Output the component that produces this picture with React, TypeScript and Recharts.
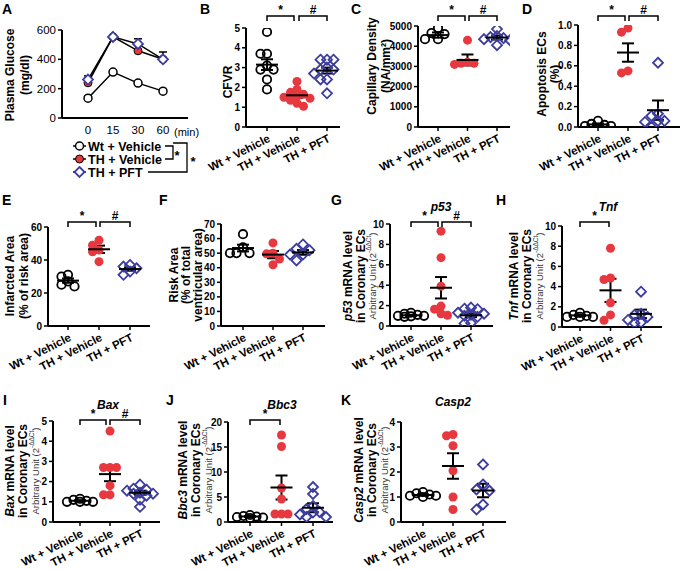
import React from 'react';
import { ComposedChart, LineChart, Line, Scatter, XAxis, YAxis, ErrorBar } from 'recharts';

const FONT = "'Liberation Sans', Arial, Helvetica, sans-serif";
const RED = '#e8383f';
const BLUE = '#3d3d9e';

// ---------- Panel A ----------
const timePoints = ['0', '15', '30', '60'];
const glucoseWt = [135, 313, 238, 183];
const glucoseTH = [240, 553, 458, 400];
const glucosePFT = [262, 553, 505, 400];
const glucosePFTErrUp = [25, 0, 35, 50];

const groupLabels = ['Wt + Vehicle', 'TH + Vehicle', 'TH + PFT'];

// ---------- Panel B: CFVR ----------
const cfvrWt = [4.8, 3.7, 3.7, 3.1, 2.9, 2.9, 2.4, 1.9];
const cfvrTH = [2.3, 1.9, 1.75, 1.65, 1.55, 1.5, 1.45, 1.35, 1.2, 1.05];
const cfvrPFT = [3.4, 3.4, 3.4, 3.0, 2.9, 2.9, 2.7, 2.4, 2.4, 1.7];
const cfvrMean = [3.15, 1.6, 2.85];
const cfvrSem = [0.27, 0.12, 0.15];

// ---------- Panel C: capillary density ----------
const capWt = [4900, 4650, 4600, 4350, 4350];
const capTH = [4300, 3200, 3150, 3150, 3100];
const capPFT = [4850, 4500, 4450, 4400, 4350, 4300, 4050];
const capMean = [4550, 3320, 4430];
const capSem = [130, 270, 100];

// ---------- Panel D: apoptosis ----------
const apoWt = [0.06, 0.03, 0.02, 0.01, 0.01];
const apoTH = [0.97, 0.93, 0.55, 0.53];
const apoPFT = [0.63, 0.13, 0.11, 0.06, 0.06, 0.05, 0.0];
const apoMean = [0.025, 0.73, 0.165];
const apoSem = [0.01, 0.09, 0.095];

// ---------- Panel E: infarcted area ----------
const infWt = [31, 30, 27, 25, 24];
const infTH = [52, 49, 46, 45, 39];
const infPFT = [37, 36, 35, 33, 31];
const infMean = [27.5, 46.5, 34.5];
const infSem = [1.3, 2.2, 1.0];

// ---------- Panel F: risk area ----------
const riskWt = [63, 54, 50, 50, 50];
const riskTH = [57, 50, 49.5, 46, 42];
const riskPFT = [56, 53, 52, 49, 49, 45];
const riskMean = [53.5, 49, 50.5];
const riskSem = [2.3, 2.5, 1.6];

// ---------- Panel G: p53 ----------
const p53Wt = [1.3, 1.2, 1.1, 1.0, 1.0, 0.95, 0.9];
const p53TH = [9.3, 6.7, 3.9, 1.95, 1.65, 1.2, 1.05];
const p53PFT = [1.8, 1.7, 1.65, 1.3, 1.2, 1.1, 1.0, 0.9, 0.3, 0.25];
const p53Mean = [1.05, 3.75, 1.05];
const p53Sem = [0.05, 1.05, 0.18];

// ---------- Panel H: Tnf ----------
const tnfWt = [1.4, 1.2, 1.1, 1.0, 1.0, 1.0];
const tnfTH = [7.8, 4.85, 4.7, 2.4, 1.2, 0.66];
const tnfPFT = [3.5, 1.3, 1.2, 1.0, 0.7, 0.45, 0.4];
const tnfMean = [1.15, 3.63, 1.3];
const tnfSem = [0.07, 1.15, 0.42];

// ---------- Panel I: Bax ----------
const baxWt = [1.15, 1.1, 1.05, 1.0, 1.0, 1.0];
const baxTH = [4.5, 2.7, 2.7, 2.7, 1.8, 1.35, 1.35];
const baxPFT = [1.85, 1.65, 1.6, 1.55, 1.45, 1.4, 1.4, 1.3, 1.1, 0.75];
const baxMean = [1.05, 2.37, 1.45];
const baxSem = [0.03, 0.35, 0.1];

// ---------- Panel J: Bbc3 ----------
const bbcWt = [1.4, 1.2, 1.1, 1.0, 0.9, 0.8];
const bbcTH = [17.4, 15.1, 6.8, 4.6, 1.6, 1.6, 1.6];
const bbcPFT = [7.0, 5.6, 3.2, 2.6, 2.0, 1.9, 1.5, 1.0, 1.0];
const bbcMean = [1.1, 6.9, 2.85];
const bbcSem = [0.1, 2.4, 0.9];

// ---------- Panel K: Casp2 ----------
const caspWt = [1.2, 1.15, 1.1, 1.05, 1.05, 1.0];
const caspTH = [3.45, 3.5, 3.05, 2.05, 1.0, 0.5];
const caspPFT = [2.3, 1.5, 1.3, 1.25, 0.7, 0.5];
const caspMean = [1.08, 2.24, 1.26];
const caspSem = [0.03, 0.51, 0.27];

// ---------- helpers ----------
function swarm(vals: number[], pxPerY: number, step = 6.5, minD = 6.5): number[] {
  const order = vals.map((_, i) => i).sort((a, b) => vals[b] - vals[a]);
  const placed: { x: number; y: number }[] = [];
  const out = new Array(vals.length).fill(0);
  const cands = [0, -step, step, -2 * step, 2 * step];
  for (const i of order) {
    const y = vals[i] * pxPerY;
    let best = 0;
    let bestDist = -1;
    for (const c of cands) {
      let md = Infinity;
      for (const p of placed) md = Math.min(md, Math.hypot(p.x - c, p.y - y));
      if (md >= minD) { best = c; bestDist = Infinity; break; }
      if (md > bestDist) { bestDist = md; best = c; }
    }
    placed.push({ x: best, y });
    out[i] = best;
  }
  return out;
}

const OpenCircle = (p: any) => (
  <circle cx={p.cx} cy={p.cy} r={4.2} fill="none" stroke="#000" strokeWidth={1.8} />
);
const RedDot = (p: any) => <circle cx={p.cx} cy={p.cy} r={4.5} fill={RED} stroke="none" />;
const Diamond = (p: any) => (
  <path
    d={`M${p.cx},${p.cy - 5} L${p.cx + 5},${p.cy} L${p.cx},${p.cy + 5} L${p.cx - 5},${p.cy} Z`}
    fill="none"
    stroke={BLUE}
    strokeWidth={1.8}
  />
);
const MeanLine = (p: any) => (
  <line x1={p.cx - 11} x2={p.cx + 11} y1={p.cy} y2={p.cy} stroke="#000" strokeWidth={2} />
);

const XTick = (props: any) => {
  const { x, y, payload } = props;
  const label = groupLabels[Math.round(payload.value) - 1];
  const tx = x + 4;
  const ty = y + 8;
  return (
    <g transform={`translate(${tx},${ty}) rotate(-27)`}>
      <text x={0} y={0} textAnchor="end" fontFamily={FONT} fontWeight="bold" fontSize={11.5} fill="#000">
        {label}
      </text>
    </g>
  );
};

type Geom = {
  axisX: number; endX: number; yTop: number; yBottom: number;
  g1: number; g3: number; yMax: number; yTicks: number[]; dec?: number;
};

function GroupPanel({ geom, groups, mean, sem }: { geom: Geom; groups: number[][]; mean: number[]; sem: number[] }) {
  const YW = 70, XH = 70, MT = 10, MR = 2;
  const ppu = (geom.g3 - geom.g1) / 2;
  const dMin = 1 - (geom.g1 - geom.axisX) / ppu;
  const dMax = 3 + (geom.endX - geom.g3) / ppu;
  const pxPerY = (geom.yBottom - geom.yTop) / geom.yMax;
  const left = geom.axisX - YW;
  const top = geom.yTop - MT;
  const width = geom.endX - geom.axisX + YW + MR;
  const height = geom.yBottom - geom.yTop + MT + XH;
  const series = groups.map((vals, gi) => {
    const offs = swarm(vals, pxPerY);
    return vals.map((v, i) => ({ x: gi + 1 + offs[i] / ppu, y: v }));
  });
  const meanData = mean.map((m, i) => ({ x: i + 1, y: m, sem: sem[i] }));
  const shapes = [OpenCircle, RedDot, Diamond];
  return (
    <div style={{ position: 'absolute', left, top }}>
      <ComposedChart width={width} height={height} margin={{ top: MT, right: MR, bottom: 0, left: 0 }}>
        <XAxis
          type="number"
          dataKey="x"
          domain={[dMin, dMax]}
          ticks={[1, 2, 3]}
          allowDataOverflow
          height={XH}
          axisLine={{ stroke: '#000', strokeWidth: 2 }}
          tickLine={{ stroke: '#000', strokeWidth: 1.5 }}
          tickSize={4}
          interval={0}
          tick={<XTick />}
        />
        <YAxis
          type="number"
          dataKey="y"
          domain={[0, geom.yMax]}
          ticks={geom.yTicks}
          allowDataOverflow
          width={YW}
          interval={0}
          axisLine={{ stroke: '#000', strokeWidth: 2 }}
          tickLine={{ stroke: '#000', strokeWidth: 1.5 }}
          tickSize={4}
          tickFormatter={(v: number) => (geom.dec ? v.toFixed(geom.dec) : String(v))}
          tick={{ fontFamily: FONT, fontWeight: 'bold', fontSize: 10, fill: '#000' }}
        />
        {series.map((d, gi) => (
          <Scatter key={gi} data={d} shape={shapes[gi]} isAnimationActive={false} />
        ))}
        <Scatter data={meanData} shape={MeanLine} isAnimationActive={false}>
          <ErrorBar dataKey="sem" direction="y" width={6} stroke="#000" strokeWidth={2} />
        </Scatter>
      </ComposedChart>
    </div>
  );
}

const DiamondDot = (p: any) => (
  <path
    d={`M${p.cx},${p.cy - 5} L${p.cx + 5},${p.cy} L${p.cx},${p.cy + 5} L${p.cx - 5},${p.cy} Z`}
    fill="#fff"
    stroke={BLUE}
    strokeWidth={1.8}
  />
);

function PanelA() {
  const data = timePoints.map((t, i) => ({
    idx: i,
    wt: glucoseWt[i],
    th: glucoseTH[i],
    pft: glucosePFT[i],
    pftErr: [0, glucosePFTErrUp[i]],
  }));
  const YW = 70, XH = 40, MT = 10;
  const axisX = 62, endX = 188, yTop = 30, yBottom = 118;
  const firstX = 88, lastX = 163;
  const ppu = (lastX - firstX) / (timePoints.length - 1);
  const dMin = -(firstX - axisX) / ppu;
  const dMax = timePoints.length - 1 + (endX - lastX) / ppu;
  return (
    <div style={{ position: 'absolute', left: axisX - YW, top: yTop - MT }}>
      <LineChart
        width={endX - axisX + YW + 2}
        height={yBottom - yTop + MT + XH}
        data={data}
        margin={{ top: MT, right: 2, bottom: 0, left: 0 }}
      >
        <XAxis
          type="number"
          dataKey="idx"
          domain={[dMin, dMax]}
          allowDataOverflow
          ticks={timePoints.map((_, i) => i)}
          tickFormatter={(v: number) => timePoints[Math.round(v)]}
          height={XH}
          axisLine={{ stroke: '#000', strokeWidth: 2 }}
          tickLine={false}
          interval={0}
          tick={{ fontFamily: FONT, fontSize: 11.5, fill: '#000' }}
        />
        <YAxis
          domain={[0, 600]}
          ticks={[0, 200, 400, 600]}
          width={YW}
          axisLine={{ stroke: '#000', strokeWidth: 2 }}
          tickLine={{ stroke: '#000', strokeWidth: 1.5 }}
          tickSize={4}
          tick={{ fontFamily: FONT, fontSize: 11.5, fill: '#000' }}
        />
        <Line dataKey="wt" stroke="#000" strokeWidth={1.5} isAnimationActive={false}
          dot={{ r: 4, fill: '#fff', stroke: '#000', strokeWidth: 1.5 }} />
        <Line dataKey="th" stroke="#000" strokeWidth={1.5} isAnimationActive={false}
          dot={{ r: 4, fill: RED, stroke: '#000', strokeWidth: 1 }} />
        <Line dataKey="pft" stroke="#000" strokeWidth={1.5} isAnimationActive={false} dot={<DiamondDot />}>
          <ErrorBar dataKey="pftErr" direction="y" width={4} stroke="#000" strokeWidth={1.5} />
        </Line>
      </LineChart>
    </div>
  );
}

// ---------- overlay annotations ----------
const VLabel = ({ x, y, children, size = 12, bold = true, fill = '#000' }: any) => (
  <text
    x={x}
    y={y}
    transform={`rotate(-90 ${x} ${y})`}
    textAnchor="middle"
    dominantBaseline="central"
    fontFamily={FONT}
    fontSize={size}
    fontWeight={bold ? 'bold' : 'normal'}
    fill={fill}
  >
    {children}
  </text>
);

const Arb = ({ x, y }: any) => (
  <VLabel x={x} y={y} size={9.5} bold={false} fill="#333">
    Arbitrary Unit (2
    <tspan dy={-4} fontSize={6.5}>-ΔΔCt</tspan>
    <tspan dy={4}>)</tspan>
  </VLabel>
);

const Bracket = ({ x1, x2, y, label }: any) => (
  <g>
    <path d={`M${x1},${y + 5} L${x1},${y} L${x2},${y} L${x2},${y + 5}`} fill="none" stroke="#000" strokeWidth={1.5} />
    <text x={(x1 + x2) / 2} y={y - 2} textAnchor="middle" fontFamily={FONT} fontWeight="bold" fontSize={12}>
      {label}
    </text>
  </g>
);

const Letter = ({ x, y, c }: any) => (
  <text x={x} y={y} fontFamily={FONT} fontWeight="bold" fontSize={14}>{c}</text>
);

const Title = ({ x, y, c }: any) => (
  <text x={x} y={y} textAnchor="middle" fontFamily={FONT} fontWeight="bold" fontStyle="italic" fontSize={12}>{c}</text>
);

function Overlay() {
  const legY = [146, 159, 172];
  return (
    <svg width={682} height={570} style={{ position: 'absolute', left: 0, top: 0, pointerEvents: 'none' }}>
      {/* panel letters */}
      <Letter x={2} y={14} c="A" />
      <Letter x={200} y={14} c="B" />
      <Letter x={351} y={14} c="C" />
      <Letter x={522} y={14} c="D" />
      <Letter x={2} y={205} c="E" />
      <Letter x={159} y={205} c="F" />
      <Letter x={331} y={205} c="G" />
      <Letter x={496} y={205} c="H" />
      <Letter x={3} y={405} c="I" />
      <Letter x={166} y={405} c="J" />
      <Letter x={341} y={405} c="K" />

      {/* Panel A extras */}
      <VLabel x={10} y={75}>Plasma Glucose</VLabel>
      <VLabel x={25} y={75}>(mg/dl)</VLabel>
      <text x={174} y={136} fontFamily={FONT} fontSize={11}>(min)</text>
      {legY.map((y, i) => (
        <g key={i}>
          <line x1={73} x2={86} y1={y} y2={y} stroke="#000" strokeWidth={1.5} />
          {i === 0 && <circle cx={79.5} cy={y} r={4} fill="#fff" stroke="#000" strokeWidth={1.5} />}
          {i === 1 && <circle cx={79.5} cy={y} r={4} fill={RED} stroke="#000" strokeWidth={1} />}
          {i === 2 && (
            <path d={`M79.5,${y - 5} L84.5,${y} L79.5,${y + 5} L74.5,${y} Z`} fill="#fff" stroke={BLUE} strokeWidth={1.8} />
          )}
          <text x={88} y={y + 4.5} fontFamily={FONT} fontWeight="bold" fontSize={12.5}>{groupLabels[i]}</text>
        </g>
      ))}
      <path d="M165,146 L173,146 L173,159 L165,159" fill="none" stroke="#000" strokeWidth={1.3} />
      <text x={177} y={160} textAnchor="middle" fontFamily={FONT} fontWeight="bold" fontSize={13}>*</text>
      <path d="M173,143 L187,143 L187,172 L148,172" fill="none" stroke="#000" strokeWidth={1.3} />
      <text x={193} y={166} textAnchor="middle" fontFamily={FONT} fontWeight="bold" fontSize={13}>*</text>

      {/* B */}
      <VLabel x={228} y={82}>CFVR</VLabel>
      <Bracket x1={267} x2={294} y={16} label="*" />
      <Bracket x1={299} x2={327} y={16} label="#" />
      {/* C */}
      <VLabel x={372} y={66}>Capillary Density</VLabel>
      <VLabel x={386} y={66}>(NA/mm²)</VLabel>
      <Bracket x1={438} x2={465} y={16} label="*" />
      <Bracket x1={469} x2={497} y={16} label="#" />
      {/* D */}
      <VLabel x={542} y={74}>Apoptosis ECs</VLabel>
      <VLabel x={555} y={74}>(%)</VLabel>
      <Bracket x1={598} x2={625} y={16} label="*" />
      <Bracket x1={629} x2={658} y={16} label="#" />
      {/* E */}
      <VLabel x={10} y={276}>Infarcted Area</VLabel>
      <VLabel x={24} y={276}>(% of risk area)</VLabel>
      <Bracket x1={68} x2={96} y={222} label="*" />
      <Bracket x1={100} x2={130} y={222} label="#" />
      {/* F */}
      <VLabel x={174} y={275}>Risk Area</VLabel>
      <VLabel x={186} y={275}>(% of total</VLabel>
      <VLabel x={198} y={275}>ventricular area)</VLabel>
      {/* G */}
      <VLabel x={348} y={276}><tspan fontStyle="italic">p53</tspan> mRNA level</VLabel>
      <VLabel x={361} y={276}>in Coronary ECs</VLabel>
      <Arb x={372} y={276} />
      <Title x={441} y={211} c="p53" />
      <Bracket x1={411} x2={438} y={222} label="*" />
      <Bracket x1={442} x2={471} y={222} label="#" />
      {/* H */}
      <VLabel x={514} y={276}><tspan fontStyle="italic">Tnf</tspan> mRNA level</VLabel>
      <VLabel x={527} y={276}>in Coronary ECs</VLabel>
      <Arb x={539} y={276} />
      <Title x={608} y={211} c="Tnf" />
      <Bracket x1={580} x2={609} y={222} label="*" />
      {/* I */}
      <VLabel x={10} y={471}><tspan fontStyle="italic">Bax</tspan> mRNA level</VLabel>
      <VLabel x={23} y={471}>in Coronary ECs</VLabel>
      <Arb x={35} y={471} />
      <Title x={108} y={409} c="Bax" />
      <Bracket x1={80} x2={106} y={420} label="*" />
      <Bracket x1={110} x2={140} y={420} label="#" />
      {/* J */}
      <VLabel x={183} y={470}><tspan fontStyle="italic">Bbc3</tspan> mRNA level</VLabel>
      <VLabel x={196} y={470}>in Coronary ECs</VLabel>
      <Arb x={208} y={470} />
      <Title x={282} y={409} c="Bbc3" />
      <Bracket x1={250} x2={280} y={420} label="*" />
      {/* K */}
      <VLabel x={359} y={470}><tspan fontStyle="italic">Casp2</tspan> mRNA level</VLabel>
      <VLabel x={372} y={470}>in Coronary ECs</VLabel>
      <Arb x={384} y={470} />
      <Title x={453} y={406} c="Casp2" />
    </svg>
  );
}

const geomB: Geom = { axisX: 246, endX: 340, yTop: 28, yBottom: 127, g1: 267, g3: 327, yMax: 5, yTicks: [0, 1, 2, 3, 4, 5] };
const geomC: Geom = { axisX: 418, endX: 510, yTop: 26, yBottom: 127, g1: 438, g3: 497, yMax: 5000, yTicks: [0, 1000, 2000, 3000, 4000, 5000] };
const geomD: Geom = { axisX: 578, endX: 680, yTop: 25, yBottom: 127, g1: 598, g3: 658, yMax: 1, yTicks: [0, 0.2, 0.4, 0.6, 0.8, 1.0], dec: 1 };
const geomE: Geom = { axisX: 48, endX: 150, yTop: 227, yBottom: 326, g1: 68, g3: 130, yMax: 60, yTicks: [0, 20, 40, 60] };
const geomF: Geom = { axisX: 221, endX: 325, yTop: 224, yBottom: 326, g1: 243, g3: 303, yMax: 70, yTicks: [0, 10, 20, 30, 40, 50, 60, 70] };
const geomG: Geom = { axisX: 390, endX: 493, yTop: 224, yBottom: 326, g1: 411, g3: 471, yMax: 10, yTicks: [0, 2, 4, 6, 8, 10] };
const geomH: Geom = { axisX: 562, endX: 662, yTop: 226, yBottom: 327, g1: 580, g3: 641, yMax: 10, yTicks: [0, 2, 4, 6, 8, 10] };
const geomI: Geom = { axisX: 53, endX: 160, yTop: 421, yBottom: 522, g1: 80, g3: 140, yMax: 5, yTicks: [0, 1, 2, 3, 4, 5] };
const geomJ: Geom = { axisX: 228, endX: 333, yTop: 422, yBottom: 522, g1: 250, g3: 313, yMax: 20, yTicks: [0, 5, 10, 15, 20] };
const geomK: Geom = { axisX: 401, endX: 506, yTop: 422, yBottom: 522, g1: 423, g3: 483, yMax: 4, yTicks: [0, 1, 2, 3, 4] };

export default function App() {
  return (
    <div style={{ position: 'absolute', left: 0, top: 0, width: 682, height: 570, background: '#fff', overflow: 'hidden', fontFamily: FONT }}>
      <PanelA />
      <GroupPanel geom={geomB} groups={[cfvrWt, cfvrTH, cfvrPFT]} mean={cfvrMean} sem={cfvrSem} />
      <GroupPanel geom={geomC} groups={[capWt, capTH, capPFT]} mean={capMean} sem={capSem} />
      <GroupPanel geom={geomD} groups={[apoWt, apoTH, apoPFT]} mean={apoMean} sem={apoSem} />
      <GroupPanel geom={geomE} groups={[infWt, infTH, infPFT]} mean={infMean} sem={infSem} />
      <GroupPanel geom={geomF} groups={[riskWt, riskTH, riskPFT]} mean={riskMean} sem={riskSem} />
      <GroupPanel geom={geomG} groups={[p53Wt, p53TH, p53PFT]} mean={p53Mean} sem={p53Sem} />
      <GroupPanel geom={geomH} groups={[tnfWt, tnfTH, tnfPFT]} mean={tnfMean} sem={tnfSem} />
      <GroupPanel geom={geomI} groups={[baxWt, baxTH, baxPFT]} mean={baxMean} sem={baxSem} />
      <GroupPanel geom={geomJ} groups={[bbcWt, bbcTH, bbcPFT]} mean={bbcMean} sem={bbcSem} />
      <GroupPanel geom={geomK} groups={[caspWt, caspTH, caspPFT]} mean={caspMean} sem={caspSem} />
      <Overlay />
    </div>
  );
}
